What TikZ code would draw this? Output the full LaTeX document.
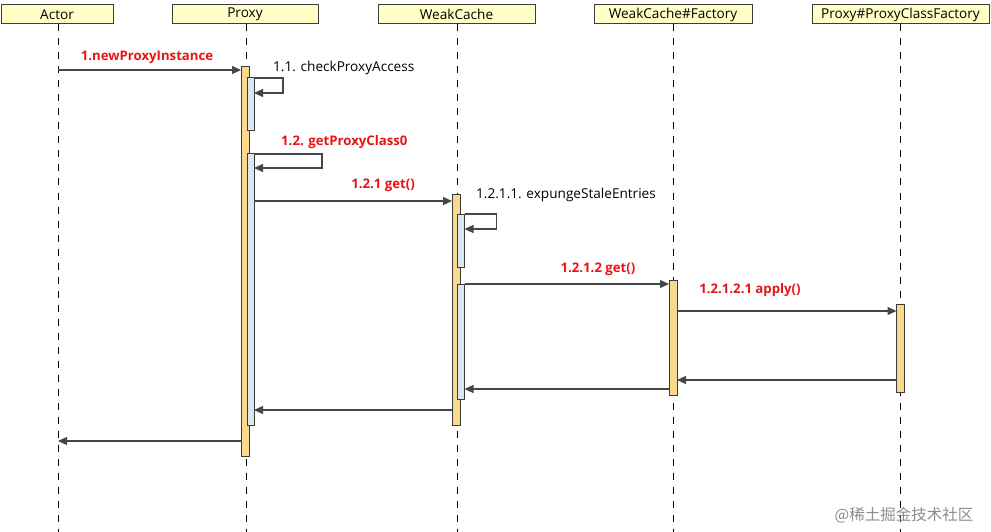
\documentclass[tikz,border=0pt]{standalone}
\usepackage{fontspec}
\setmainfont{Open Sans}
\newfontfamily\cjk{Noto Sans CJK SC}
\usetikzlibrary{arrows.meta}
\definecolor{hdrfill}{RGB}{255,255,200}
\definecolor{edge}{RGB}{60,60,60}
\definecolor{orangebar}{RGB}{250,216,140}
\definecolor{bluebar}{RGB}{220,232,240}
\definecolor{redlbl}{RGB}{232,20,20}
\definecolor{msgline}{RGB}{70,70,70}
\tikzset{
  hdr/.style={draw=edge, fill=hdrfill, line width=1pt, minimum height=19pt, inner sep=0pt, font=\fontsize{13.6}{15}\selectfont},
  life/.style={draw=black, line width=1pt, dash pattern=on 7pt off 7pt},
  obar/.style={draw=edge, fill=orangebar, line width=1pt, minimum width=8pt, inner sep=0pt, outer sep=0pt},
  bbar/.style={draw=edge, fill=bluebar, line width=1pt, minimum width=7pt, inner sep=0pt, outer sep=0pt},
  msg/.style={draw=msgline, line width=1.2pt, -{Triangle[length=9pt,width=8pt]}},
  lbl/.style={font=\fontsize{13.6}{15}\selectfont, inner sep=0pt},
  rlbl/.style={font=\fontsize{13.2}{15}\selectfont\bfseries, text=redlbl, inner sep=0pt}
}
\begin{document}
\begin{tikzpicture}[x=1pt,y=-1pt]
\useasboundingbox (0,0) rectangle (991,532);
% headers
\node[hdr, minimum width=112pt] (actor) at (57,14.5) {Actor};
\node[hdr, minimum width=146pt] (proxy) at (245,14.5) {Proxy};
\node[hdr, minimum width=157pt] (weak) at (456.5,14.5) {WeakCache};
\node[hdr, minimum width=158pt] (fact) at (673,14.5) {WeakCache\#Factory};
\node[hdr, minimum width=177pt] (pcf) at (900.5,14.5) {Proxy\#ProxyClassFactory};
% lifelines
\coordinate (actorEnd) at (58,532);
\coordinate (proxyEnd) at (246,532);
\coordinate (weakEnd) at (457,532);
\coordinate (factEnd) at (673,532);
\coordinate (pcfEnd) at (900,532);
\draw[life] (actor.south -| actorEnd) -- (actorEnd);
\draw[life] (proxy.south -| proxyEnd) -- (proxyEnd);
\draw[life] (weak.south -| weakEnd) -- (weakEnd);
\draw[life] (fact.south -| factEnd) -- (factEnd);
\draw[life] (pcf.south -| pcfEnd) -- (pcfEnd);
% activation bars
\node[obar, minimum height=389pt] (pbar) at (245,261.5) {};
\node[bbar, minimum height=53pt] (pn1) at (250.5,104.5) {};
\node[bbar, minimum height=271pt] (pn2) at (250.5,289.5) {};
\node[obar, minimum height=231pt] (wbar) at (456,309.5) {};
\node[bbar, minimum height=53pt] (wn1) at (461,240.5) {};
\node[bbar, minimum height=115pt] (wn2) at (461,341.5) {};
\node[obar, minimum height=115pt] (fbar) at (673,337.5) {};
\node[obar, minimum height=88pt] (cbar) at (900.5,348) {};
% messages
\draw[msg] (actorEnd |- 0,70) -- (pbar.west |- 0,70);
\draw[msg] (pn1.north east) -- ++(29,0) -- ++(0,15) -- (pn1.east |- 0,93);
\draw[msg] (pn2.north east) -- ++(68,0) -- ++(0,14) -- (pn2.east |- 0,168);
\draw[msg] (pn2.east |- 0,201) -- (wbar.west |- 0,201);
\draw[msg] (wn1.north east) -- ++(32,0) -- ++(0,15) -- (wn1.east |- 0,229);
\draw[msg] (wn2.north east) -- (fbar.west |- wn2.north east);
\draw[msg] (fbar.east |- 0,311) -- (cbar.west |- 0,311);
\draw[msg] (cbar.west |- 0,380) -- (fbar.east |- 0,380);
\draw[msg] (fbar.west |- 0,389) -- (wn2.east |- 0,389);
\draw[msg] (wbar.west |- 0,410) -- (pn2.east |- 0,410);
\draw[msg] (pbar.west |- 0,441) -- (actorEnd |- 0,441);
% labels
\node[rlbl] (l1) at (147,57) {1.newProxyInstance};
\node[lbl, anchor=west] (l11) at (273,68) {1.1. checkProxyAccess};
\node[rlbl, anchor=west] (l12) at (281,142) {1.2. getProxyClass0};
\node[rlbl] (l121) at (383,185) {1.2.1 get()};
\node[lbl, anchor=west] (l1211) at (476,195) {1.2.1.1. expungeStaleEntries};
\node[rlbl] (l1212) at (598,269) {1.2.1.2 get()};
\node[rlbl] (l12121) at (750,290) {1.2.1.2.1 apply()};
% watermark
\node[font=\cjk\fontsize{15.5}{17}\selectfont, text=black!45, inner sep=0pt] (wm) at (904,515) {@稀土掘金技术社区};
\end{tikzpicture}
\end{document}
